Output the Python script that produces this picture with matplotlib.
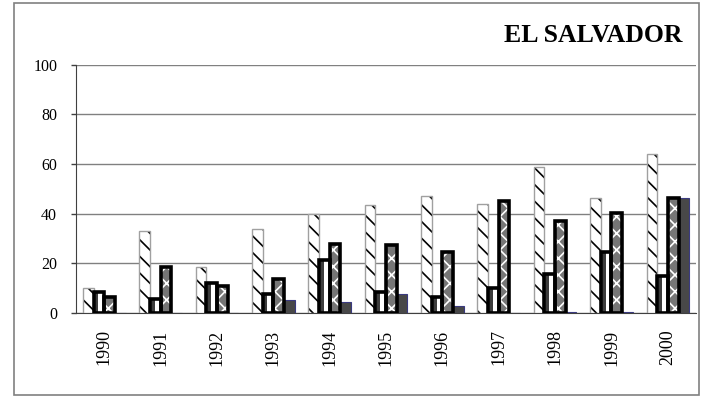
import matplotlib
matplotlib.use("Agg")
import matplotlib.pyplot as plt
import numpy as np
from matplotlib.patches import Rectangle

plt.rcParams['font.family'] = ['Liberation Serif', 'DejaVu Serif']
plt.rcParams['hatch.linewidth'] = 1.2

# data
years = ['1990', '1991', '1992', '1993', '1994', '1995',
         '1996', '1997', '1998', '1999', '2000']
serie_a = [10, 33, 18.4, 33.8, 39.8, 43.4, 46.9, 43.8, 58.6, 46.4, 64]
serie_b = [8.3, 5.6, 12, 7.5, 21.4, 8.2, 6.5, 9.8, 15.6, 24.5, 15]
serie_c = [6.3, 18.6, 10.6, 13.4, 27.7, 27.4, 24.3, 45, 37, 40.4, 46.3]
serie_d = [0, 0, 0, 5.2, 4.4, 7.6, 2.7, 0, 0.3, 0.4, 46.3]
y_ticks = [0, 20, 40, 60, 80, 100]

fig = plt.figure(figsize=(7.04, 3.98), dpi=100)
ax = fig.add_axes([0.108, 0.2143, 0.8807, 0.6231])

x = np.arange(len(years))
w = 0.189
off = [-1.5 * w, -0.5 * w, 0.5 * w, 1.5 * w]

# serie a : white with dashed diagonal
ax.bar(x + off[0], serie_a, w, color='white', edgecolor='black',
       hatch='\\\\', linewidth=0, zorder=3)
ax.bar(x + off[0], serie_a, w, color='none', edgecolor='#a0a0a0',
       linewidth=1, zorder=4)

# serie b : thick black frame, dark stripe left
ax.bar(x + off[1], serie_b, w, color='white', edgecolor='none', zorder=3)
ax.bar(x + off[1] - w * 0.25, serie_b, w * 0.4, color='#3c3c3c',
       edgecolor='none', zorder=3)
ax.bar(x + off[1], serie_b, w, color='none', edgecolor='black',
       linewidth=2.6, zorder=4)

# serie c : grey zigzag pattern
ax.bar(x + off[2], serie_c, w, color='#767676', edgecolor='white',
       hatch='xx', linewidth=0, zorder=3)
ax.bar(x + off[2], serie_c, w, color='none', edgecolor='black',
       linewidth=2.6, zorder=4)

# serie d : solid dark
ax.bar(x + off[3], serie_d, w, color='#484848', edgecolor='#3a3a80',
       linewidth=0.8, zorder=3)

ax.set_xlim(-0.5, len(years) - 0.5)
ax.set_ylim(0, 100)
ax.set_yticks(y_ticks)
ax.set_yticklabels([str(v) for v in y_ticks], fontsize=11.5)
ax.set_xticks(x)
ax.set_xticklabels(years, rotation=90, fontsize=13)
ax.tick_params(axis='x', length=0, pad=12)
ax.tick_params(axis='y', length=3.6, width=1, color='#404040', pad=10)
ax.yaxis.grid(True, color='#808080', linewidth=1, zorder=0)
ax.set_axisbelow(True)
for s in ['top', 'right']:
    ax.spines[s].set_visible(False)
ax.spines['left'].set_color('#404040')
ax.spines['bottom'].set_color('#404040')

fig.text(0.969, 0.912, 'EL SALVADOR', fontsize=18.5, fontweight='bold',
         ha='right', va='center')

fig.patches.append(Rectangle((0.0199, 0.0075), 0.973, 0.985,
                             transform=fig.transFigure, fill=False,
                             edgecolor='#808080', linewidth=1.2))

fig.savefig('out.png', dpi=100)
